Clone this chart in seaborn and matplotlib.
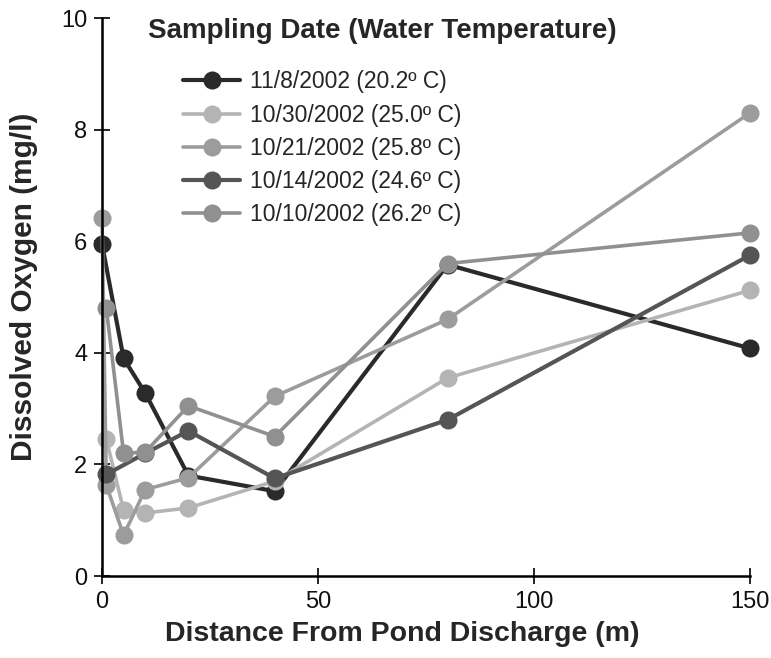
import matplotlib
matplotlib.use("Agg")
import matplotlib.pyplot as plt
import seaborn as sns
import pandas as pd

# Dissolved oxygen vs distance from pond discharge, one series per sampling date
labels = ["11/8/2002 (20.2º C)", "10/30/2002 (25.0º C)", "10/21/2002 (25.8º C)",
          "10/14/2002 (24.6º C)", "10/10/2002 (26.2º C)"]
colors = ["#2a2a2a", "#b4b4b4", "#9c9c9c", "#555555", "#909090"]
widths = [3.0, 2.6, 2.6, 3.0, 2.6]

dist_1108 = [0, 5, 10, 20, 40, 80, 150]
do_1108 = [5.95, 3.9, 3.28, 1.8, 1.52, 5.58, 4.08]
dist_1030 = [1, 5, 10, 20, 40, 80, 150]
do_1030 = [2.45, 1.18, 1.13, 1.22, 1.7, 3.55, 5.12]
dist_1021 = [0, 1, 5, 10, 20, 40, 80, 150]
do_1021 = [6.42, 1.63, 0.73, 1.55, 1.76, 3.22, 4.6, 8.3]
dist_1014 = [1, 10, 20, 40, 80, 150]
do_1014 = [1.82, 2.2, 2.6, 1.75, 2.8, 5.75]
dist_1010 = [1, 5, 10, 20, 40, 80, 150]
do_1010 = [4.8, 2.2, 2.22, 3.05, 2.5, 5.6, 6.15]

dists = [dist_1108, dist_1030, dist_1021, dist_1014, dist_1010]
dos = [do_1108, do_1030, do_1021, do_1014, do_1010]

sns.set_style("white")
plt.rcParams['font.family'] = ['Liberation Sans', 'DejaVu Sans']

fig = plt.figure(figsize=(7.71, 6.58), dpi=100)
ax = fig.add_axes([0.1323, 0.1246, 0.8405, 0.848])

for lab, col, lw, xs, ys in zip(labels, colors, widths, dists, dos):
    df = pd.DataFrame({"dist": xs, "do": ys})
    sns.lineplot(data=df, x="dist", y="do", ax=ax, color=col, linewidth=lw,
                 marker="o", markersize=13, markeredgewidth=0, label=lab,
                 estimator=None, clip_on=False)

ax.set_xlim(0, 150)
ax.set_ylim(0, 10)
ax.set_xticks([0, 50, 100, 150])
ax.set_yticks([0, 2, 4, 6, 8, 10])
ax.tick_params(bottom=True, left=True, direction="inout", length=11, width=1.2,
               color="black", labelsize=17, pad=5, labelcolor="#111111")
for side in ["top", "right"]:
    ax.spines[side].set_visible(False)
for side in ["left", "bottom"]:
    ax.spines[side].set_color("black")
    ax.spines[side].set_linewidth(1.8)

ax.set_xlabel("Distance From Pond Discharge (m)", fontsize=20.5, fontweight="bold")
ax.set_ylabel("Dissolved Oxygen (mg/l)", fontsize=21.5, fontweight="bold")
ax.xaxis.set_label_coords(0.463, -0.08)
ax.yaxis.set_label_coords(-0.099, 0.518)

ax.text(0.071, 0.977, "Sampling Date (Water Temperature)", transform=ax.transAxes,
        fontsize=20, fontweight="bold", va="center", ha="left")
ax.legend(loc="upper left", bbox_to_anchor=(0.125, 0.906), frameon=False,
          fontsize=16.5, handlelength=2.5, handletextpad=0.42, labelspacing=0.44,
          borderpad=0, borderaxespad=0)

plt.savefig("out.png", dpi=100)
plt.close()
